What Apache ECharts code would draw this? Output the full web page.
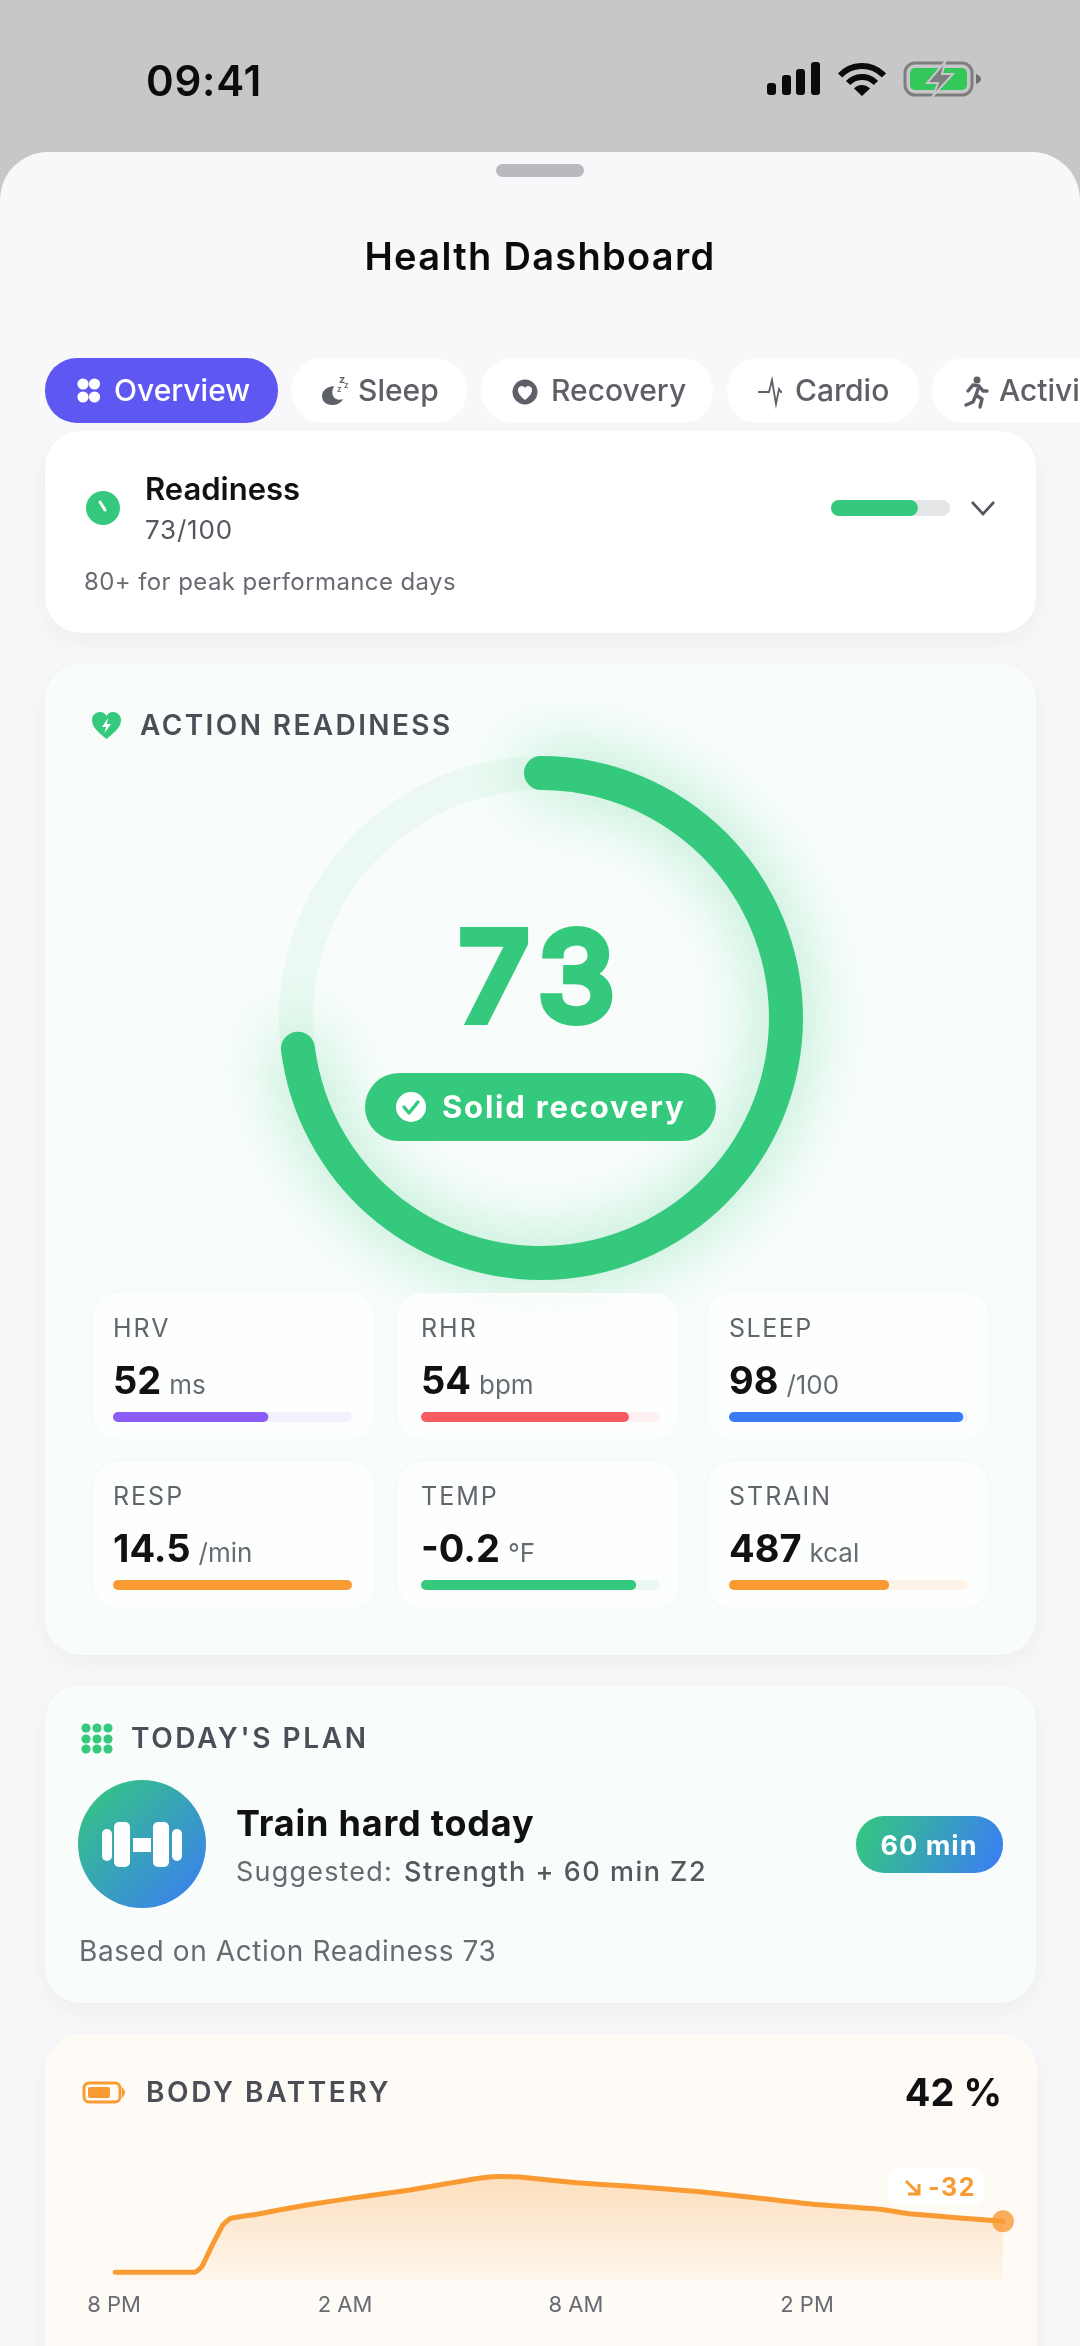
<!DOCTYPE html>
<html>
<head>
<meta charset="utf-8">
<title>Health Dashboard</title>
<script src="https://cdn.jsdelivr.net/npm/echarts@6/dist/echarts.min.js"></script>
<style>
  html, body { margin: 0; padding: 0; background: #f8f8fa; }
  #main { width: 1080px; height: 2346px; }
</style>
</head>
<body>
<div id="main"></div>
<script>
// values
const readiness = 73;
const metricNames = ['HRV', 'RHR', 'SLEEP', 'RESP', 'TEMP', 'STRAIN'];
const metricValues = ['52', '54', '98', '14.5', '-0.2', '487'];
const metricUnits = ['ms', 'bpm', '/100', '/min', '°F', 'kcal'];
const metricFill = [65, 87, 98, 100, 90, 67];
const metricColors = ['#8b5cf6', '#f65b5f', '#3b7cf6', '#f99a33', '#34c97c', '#f99a33'];
const metricTracks = ['#f3f1fe', '#feeff0', '#eef3fe', '#fef3e8', '#e9f9f1', '#fef3e8'];
const tabNames = ['Overview', 'Sleep', 'Recovery', 'Cardio', 'Activity'];
const batteryHours = [0.03, 2.1, 2.28, 2.49, 2.83, 3.03, 3.71, 5.01, 6.3, 7.69, 8.55, 9.58, 10.03, 10.55, 12.02, 13.32, 15.22, 16.78, 18.16, 19.9, 20.75, 23.09];
const batteryLevel = [5.5, 5.5, 9.5, 21.4, 39.3, 44, 47, 53.6, 59, 64.3, 68.4, 73, 74, 73.5, 69.5, 67.1, 63, 58.4, 54.1, 50.5, 47.1, 42];
const batteryTicks = ['8 PM', '2 AM', '8 AM', '2 PM'];

const GREEN = '#34c97c';
const ORANGE = '#f99a33';
const FONT = 'Inter, "Noto Sans", "DejaVu Sans", sans-serif';

// echarts text has no letter spacing, so set it per string on the canvas
const tracking = {
  '09:41': 0.7, 'Health Dashboard': 1.3, '73/100': 0.8, '80+ for peak performance days': 0.4,
  'ACTION READINESS': 2.4, "TODAY'S PLAN": 2.6, 'BODY BATTERY': 2.6,
  'Solid recovery': 1.8, '73': 10,
  'HRV': 2, 'RHR': 2, 'SLEEP': 1.5, 'RESP': 2, 'TEMP': 2, 'STRAIN': 2,
  'Train hard today': 0.8, 'Suggested:': 1.2, 'Strength + 60 min Z2': 1.5,
  'Based on Action Readiness 73': 0.6, '60 min': 1, '-32': 1.5
};
['fillText', 'strokeText'].forEach(name => {
  let draw = CanvasRenderingContext2D.prototype[name];
  CanvasRenderingContext2D.prototype[name] = function (str, x, y) {
    this.letterSpacing = (tracking[str] || 0) + 'px';
    draw.call(this, str, x, y);
  };
});

// graphic has no svg path type, so small icons go through this shape
echarts.graphic.registerShape('icon', echarts.graphic.extendShape({
  shape: { d: '' },
  buildPath: function (ctx, shape) {
    let t = shape.d.match(/[MLCZ]|-?[\d.]+/g) || [];
    let i = 0;
    while (i < t.length) {
      let c = t[i++];
      if (c === 'M') { ctx.moveTo(+t[i], +t[i + 1]); i += 2; }
      else if (c === 'L') { ctx.lineTo(+t[i], +t[i + 1]); i += 2; }
      else if (c === 'C') { ctx.bezierCurveTo(+t[i], +t[i + 1], +t[i + 2], +t[i + 3], +t[i + 4], +t[i + 5]); i += 6; }
      else if (c === 'Z') { ctx.closePath(); }
    }
  }
}));

let measure = document.createElement('canvas').getContext('2d');
function textWidth(str, font) {
  measure.font = font;
  return measure.measureText(str).width;
}
function font(weight, size) {
  return weight + ' ' + size + 'px ' + FONT;
}
// y is the visual middle of the capitals, inter sits a bit high with middle alignment
function text(x, y, str, weight, size, fill, align) {
  return {
    type: 'text', z: 10, silent: true,
    style: { x: x, y: y + size * 0.07, text: str, fill: fill, font: font(weight, size), textAlign: align || 'left', textVerticalAlign: 'middle' }
  };
}
function rect(x, y, w, h, r, fill, z, extra) {
  return {
    type: 'rect', z: z || 0, silent: true,
    shape: { x: x, y: y, width: w, height: h, r: r },
    style: Object.assign({ fill: fill }, extra || {})
  };
}
function circle(cx, cy, r, fill, z) {
  return { type: 'circle', z: z || 10, silent: true, shape: { cx: cx, cy: cy, r: r }, style: { fill: fill } };
}
function path(d, style, z) {
  return { type: 'icon', z: z || 10, silent: true, shape: { d: d }, style: style };
}
function diag(c1, c2) {
  return new echarts.graphic.LinearGradient(0, 0, 1, 1, [{ offset: 0, color: c1 }, { offset: 1, color: c2 }]);
}
const cardShadow = { shadowBlur: 24, shadowOffsetY: 8, shadowColor: 'rgba(30,40,70,0.05)' };

let elements = [];

// status bar and sheet
elements.push(rect(0, 0, 1080, 220, 0, '#c7c7c9', 0));
elements.push(rect(0, 152, 1080, 2300, [48, 48, 0, 0], '#f8f8fa', 0));
elements.push(rect(496, 164, 88, 13, 6.5, '#b9bac0', 1));
elements.push(text(204, 80, '09:41', 600, 42, '#0b0b0c', 'center'));
[[767, 83], [782, 75], [796, 69], [811, 62]].forEach(b => {
  elements.push(rect(b[0], b[1], 9, 95 - b[1], 3, '#0b0b0c', 10));
});
[30, 19].forEach(r => {
  elements.push({
    type: 'arc', z: 10, silent: true,
    shape: { cx: 862, cy: 96, r: r, startAngle: -Math.PI * 0.76, endAngle: -Math.PI * 0.24, clockwise: true },
    style: { stroke: '#0b0b0c', lineWidth: 6, fill: null }
  });
});
elements.push({
  type: 'sector', z: 10, silent: true,
  shape: { cx: 862, cy: 96, r0: 0, r: 11, startAngle: -Math.PI * 0.76, endAngle: -Math.PI * 0.24 },
  style: { fill: '#0b0b0c' }
});
elements.push(rect(905, 63, 67, 32, 10, 'transparent', 9, { stroke: '#7e7e7f', lineWidth: 3 }));
elements.push(rect(910, 68, 57, 22, 5, '#34c759', 9));
elements.push(path('M976 74 C979 75 981 77 981 79 C981 81 979 83 976 84 Z', { fill: '#6f6f70' }));
elements.push(path('M945 62 L927 83 L938 83 L933 96 L953 74 L942 74 Z', { fill: '#7e7e7f', stroke: '#c7c7c9', lineWidth: 2 }));

elements.push(text(540, 256, 'Health Dashboard', 600, 38, '#0b0b0c', 'center'));

// tab row
const tabBoxes = [[45, 233], [291, 176], [481, 232], [727, 192], [932, 230]];
const tabTextX = [114, 358, 551, 795, 999];
tabNames.forEach((name, i) => {
  elements.push(rect(tabBoxes[i][0], 358, tabBoxes[i][1], 65, 32, i === 0 ? '#5f57f2' : '#ffffff', 1));
  elements.push(text(tabTextX[i], 390, name, 500, 30, i === 0 ? '#ffffff' : '#5e6068'));
});
[[83, 384], [94.5, 384], [83, 397], [94.5, 397]].forEach(p => elements.push(circle(p[0], p[1], 5.6, '#ffffff')));
elements.push(path('M334 386 C326 387 322 391 322 396 C322 402 327 405 332 405 C337 405 341 403 343 399 C336 402 329 396 334 386 Z', { fill: '#5e6068' }));
elements.push(text(339, 379, 'z', 600, 11, '#5e6068'));
elements.push(text(344, 385, 'z', 600, 8, '#5e6068'));
elements.push(text(337, 389, 'z', 600, 8, '#5e6068'));
elements.push(circle(525, 392, 12.5, '#5e6068'));
elements.push(path('M525 400 C520 396 518 393 518 390 C518 387 520 386 522 386 C523.5 386 524.5 387 525 388 C525.5 387 526.5 386 528 386 C530 386 532 387 532 390 C532 393 530 396 525 400 Z', { fill: '#ffffff' }));
elements.push(path('M758 392 L765 392 L769 392 L772 380 L776 404 L779 389 L781 392 L782 392', { stroke: '#5e6068', lineWidth: 1.8, fill: null }));
elements.push(circle(977, 380, 3.5, '#5e6068'));
elements.push(path('M973 385 L979 386 L976 395 L982 399 L980 407 M976 395 L973 402 L966 405 M973 385 L968 391 M979 386 L983 391 L987 391', { stroke: '#5e6068', lineWidth: 3.4, fill: null, lineCap: 'round', lineJoin: 'round' }));

// readiness card
elements.push(rect(45, 431, 991, 202, 36, '#ffffff', 1, cardShadow));
elements.push(circle(103, 508, 17, GREEN));
elements.push(path('M100 502 L105 510', { stroke: '#ffffff', lineWidth: 3, lineCap: 'round', fill: null }));
elements.push(text(145, 489, 'Readiness', 600, 31, '#111114'));
elements.push(text(145, 529, '73/100', 400, 26, '#55575e'));
elements.push(text(84, 581, '80+ for peak performance days', 400, 24, '#696b72'));
elements.push(path('M972 502 L983 514 L994 502', { stroke: '#55575e', lineWidth: 2.6, fill: null }));

// action readiness card
elements.push(rect(45, 664, 991, 991, 36, '#f8fdfb', 1, cardShadow));
elements.push(path('M106.5 739 C98 732 92 727 92 720 C92 715 96 712 100 712 C103 712 105 713.5 106.5 716 C108 713.5 110 712 113 712 C117 712 121 715 121 720 C121 727 115 732 106.5 739 Z', { fill: GREEN }));
elements.push(path('M108 718 L102 727 L106 727 L104.5 733 L111 724 L107 724 Z', { fill: '#ffffff' }));
elements.push(text(140, 725, 'ACTION READINESS', 600, 28, '#4b4e56'));
let scoreLabel = text(542, 975, String(readiness), 500, 124, GREEN, 'center');
Object.assign(scoreLabel.style, { stroke: GREEN, lineWidth: 8, lineJoin: 'round' });
elements.push(scoreLabel);
elements.push(rect(365, 1073, 351, 68, 34, GREEN, 9));
elements.push(circle(411, 1107, 15, '#ffffff'));
elements.push(path('M404 1107 L409 1113 L418 1102', { stroke: GREEN, lineWidth: 3.4, fill: null, lineCap: 'round', lineJoin: 'round' }));
elements.push(text(442, 1107, 'Solid recovery', 700, 31, '#ffffff'));

// metric tiles, three per row
const tileX = [94, 398, 708];
const tileY = [1293, 1462];
const barX = [113, 421, 729];
const barY = [1412, 1580];
let grids = [], xAxes = [], yAxes = [], barSeries = [];

function addBar(left, top, width, height, value, color, track) {
  let i = grids.length;
  grids.push({ left: left, top: top, width: width, height: height });
  xAxes.push({ gridIndex: i, type: 'value', min: 0, max: 100, show: false });
  yAxes.push({ gridIndex: i, type: 'category', data: [''], show: false });
  barSeries.push({
    type: 'bar', xAxisIndex: i, yAxisIndex: i, z: 5, barWidth: height,
    showBackground: true,
    backgroundStyle: { color: track, borderRadius: height / 2 },
    itemStyle: { color: color, borderRadius: height / 2 },
    data: [value]
  });
}

metricNames.forEach((name, i) => {
  let col = i % 3, row = Math.floor(i / 3);
  let x = barX[col], y = barY[row];
  elements.push(rect(tileX[col], tileY[row], 280, 146, 24, 'rgba(255,255,255,0.8)', 3, { shadowBlur: 10, shadowColor: 'rgba(30,60,50,0.02)' }));
  elements.push(text(x, y - 84, name, 400, 25, '#63656c'));
  let vFont = font(700, 38);
  elements.push(text(x, y - 32, metricValues[i], 700, 38, '#111114'));
  elements.push(text(x + textWidth(metricValues[i], vFont) + 8, y - 28, metricUnits[i], 400, 26, '#696b72'));
  addBar(x, y, 239, 10, metricFill[i], metricColors[i], metricTracks[i]);
});
addBar(831, 500, 119, 16, readiness, GREEN, '#e4e5e7');

// today's plan card
elements.push(rect(45, 1685, 991, 318, 36, '#f8fcfb', 1, cardShadow));
[86, 97, 108].forEach(x => [1728, 1739, 1749].forEach(y => elements.push(circle(x, y, 4.6, GREEN))));
elements.push(text(131, 1738, "TODAY'S PLAN", 600, 28, '#4b4e56'));
elements.push(circle(142, 1844, 64, diag('#34c97c', '#3b7cf6')));
[[102, 1829, 10, 32], [114, 1822, 16, 45], [153, 1822, 16, 45], [172, 1829, 10, 32]].forEach(b => {
  elements.push(rect(b[0], b[1], b[2], b[3], 5, '#ffffff', 11));
});
elements.push(rect(133, 1838, 18, 14, 0, '#ffffff', 11));
elements.push(text(236, 1823, 'Train hard today', 700, 36, '#111114'));
elements.push(text(236, 1871, 'Suggested:', 400, 27, '#696b72'));
elements.push(text(404, 1871, 'Strength + 60 min Z2', 500, 27, '#55575e'));
elements.push(rect(856, 1816, 147, 57, 28, diag('#34c97c', '#3b7cf6'), 9));
elements.push(text(929, 1845, '60 min', 700, 27, '#ffffff', 'center'));
elements.push(text(79, 1951, 'Based on Action Readiness 73', 400, 28, '#696b72'));

// body battery card
elements.push(rect(45, 2034, 992, 400, 36, '#fefbf6', 1, cardShadow));
elements.push(rect(84, 2083, 36, 19, 5, 'transparent', 9, { stroke: ORANGE, lineWidth: 3 }));
elements.push(rect(88, 2087, 22, 11, 2, ORANGE, 9));
elements.push(path('M122 2087 C124 2089 125 2091 125 2092.5 C125 2094 124 2096 122 2098 Z', { fill: ORANGE }));
elements.push(text(146, 2092, 'BODY BATTERY', 600, 28, '#4b4e56'));
elements.push(text(1002, 2092, '42 %', 700, 38, '#111114', 'right'));
elements.push(rect(888, 2168, 97, 37, 12, '#ffffff', 9));
elements.push(path('M906 2181 L919 2194 M919 2184 L919 2194 L908 2194', { stroke: ORANGE, lineWidth: 3, fill: null }));
elements.push(text(928, 2187, '-32', 700, 25, ORANGE));

let batteryData = batteryHours.map((h, i) => [h, batteryLevel[i]]);
let lineIndex = grids.length;
grids.push({ left: 114, top: 2140, width: 924, height: 140 });
xAxes.push({
  gridIndex: lineIndex, type: 'value', min: 0, max: 24, interval: 6, z: 5,
  axisLine: { show: false }, axisTick: { show: false }, splitLine: { show: false },
  axisLabel: {
    margin: 14, color: '#696b72', fontSize: 22, fontFamily: FONT,
    formatter: v => batteryTicks[v / 6] || ''
  }
});
yAxes.push({ gridIndex: lineIndex, type: 'value', min: 0, max: 100, show: false });

let myChart = echarts.init(document.getElementById('main'));
let option = {
  animation: false,
  backgroundColor: '#f8f8fa',
  grid: grids,
  xAxis: xAxes,
  yAxis: yAxes,
  graphic: { elements: elements },
  series: [
    {
      type: 'gauge', z: 2,
      center: [541, 1018], radius: 262,
      startAngle: 90, endAngle: -270, min: 0, max: 100,
      pointer: { show: false },
      progress: {
        show: true, width: 34, roundCap: true,
        itemStyle: { color: GREEN, shadowBlur: 64, shadowColor: 'rgba(52,201,124,0.45)' }
      },
      axisLine: { lineStyle: { width: 34, color: [[1, '#ebf9f2']] } },
      axisTick: { show: false },
      splitLine: { show: false },
      axisLabel: { show: false },
      title: { show: false },
      detail: { show: false },
      data: [{ value: readiness }]
    }
  ].concat(barSeries, [
    {
      type: 'line', xAxisIndex: lineIndex, yAxisIndex: lineIndex, z: 5,
      smooth: 0.15, showSymbol: false,
      lineStyle: { color: ORANGE, width: 5, cap: 'round' },
      areaStyle: {
        color: new echarts.graphic.LinearGradient(0, 0, 0, 1, [
          { offset: 0, color: 'rgba(249,154,51,0.42)' },
          { offset: 1, color: 'rgba(249,154,51,0.07)' }
        ])
      },
      data: batteryData
    },
    {
      type: 'scatter', xAxisIndex: lineIndex, yAxisIndex: lineIndex, z: 6,
      symbolSize: 22, itemStyle: { color: ORANGE },
      data: batteryData.slice(-1)
    }
  ])
};
myChart.setOption(option);
</script>
</body>
</html>
